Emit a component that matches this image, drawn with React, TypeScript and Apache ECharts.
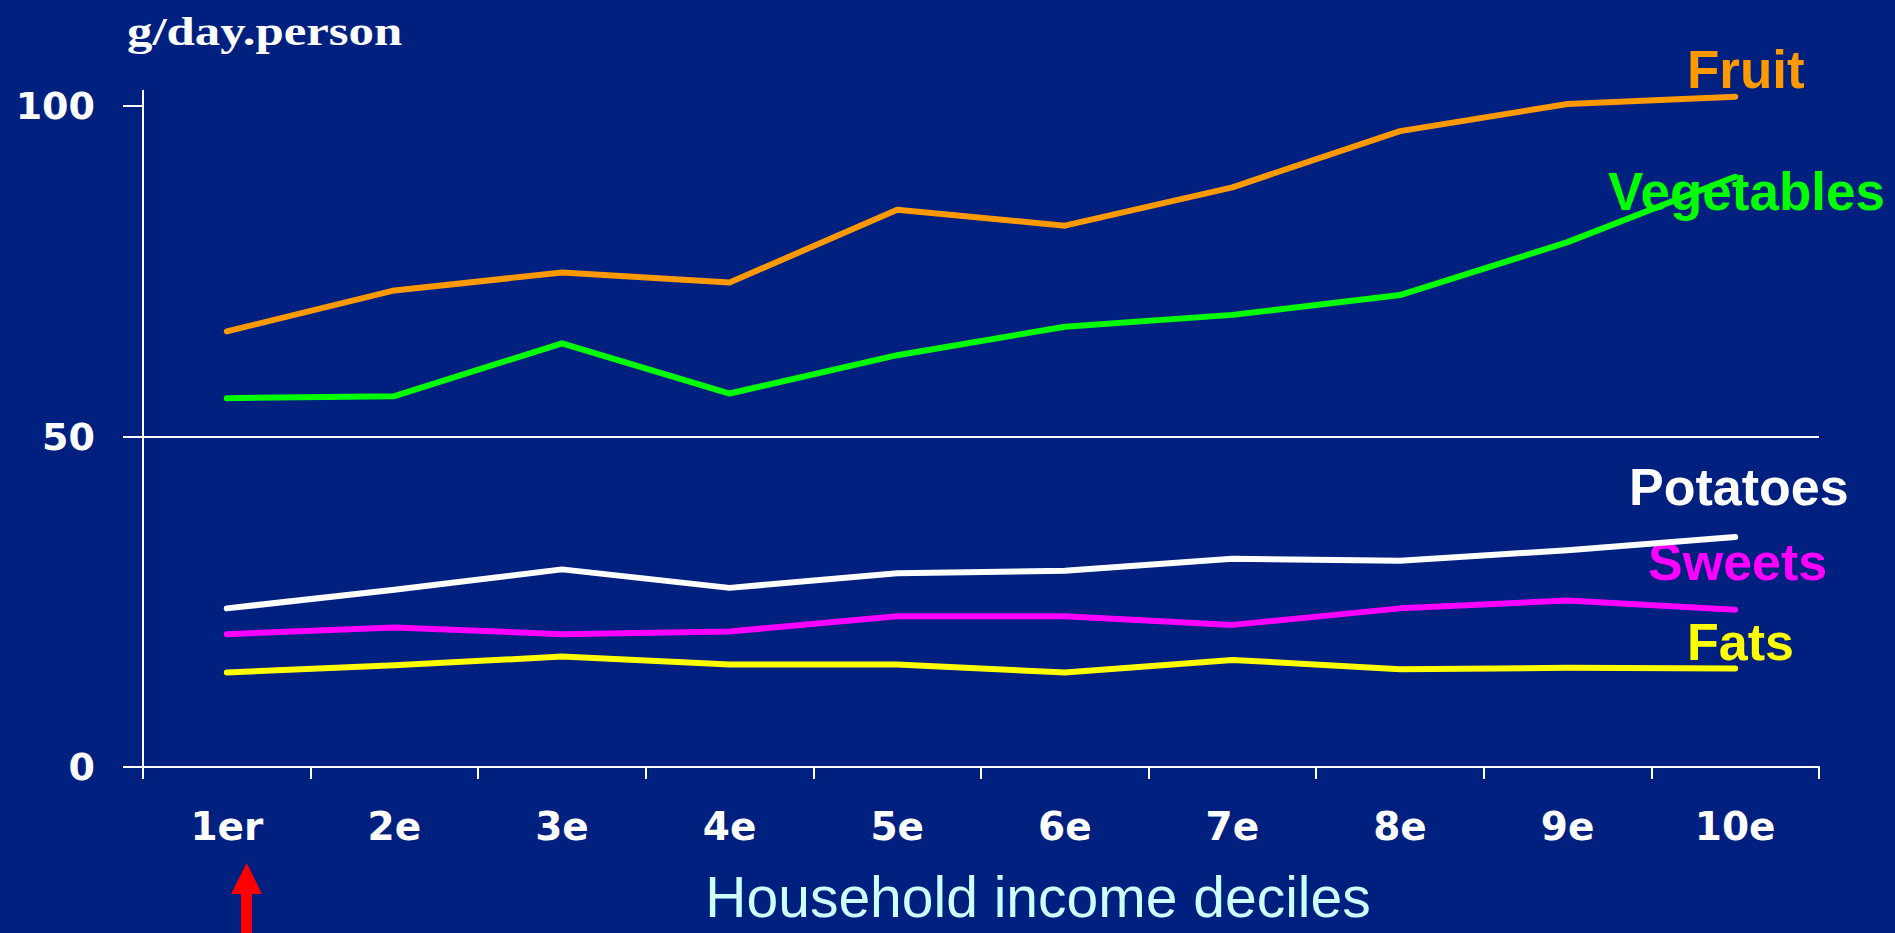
import React, { useEffect, useRef } from "react";
import * as echarts from "echarts";

const deciles = ["1er", "2e", "3e", "4e", "5e", "6e", "7e", "8e", "9e", "10e"];
const fruit = [65.9, 72.1, 74.8, 73.3, 84.3, 81.9, 87.7, 96.2, 100.3, 101.4];
const vegetables = [55.8, 56.1, 64.1, 56.5, 62.3, 66.6, 68.4, 71.4, 79.4, 89.3];
const potatoes = [24.0, 26.8, 29.9, 27.1, 29.3, 29.7, 31.5, 31.2, 32.8, 34.8];
const sweets = [20.1, 21.1, 20.1, 20.5, 22.8, 22.8, 21.5, 24.0, 25.2, 23.8];
const fats = [14.3, 15.4, 16.7, 15.5, 15.5, 14.3, 16.2, 14.8, 15.0, 14.9];
const yTickValues = [0, 50, 100];
const yAxisTop = 102.3;

const seriesDefs = [
  { name: "Fruit", data: fruit, color: "#FF9900" },
  { name: "Vegetables", data: vegetables, color: "#00FF00" },
  { name: "Potatoes", data: potatoes, color: "#FFFFFF" },
  { name: "Sweets", data: sweets, color: "#FF00FF" },
  { name: "Fats", data: fats, color: "#FFFF00" },
];

export default function App() {
  const ref = useRef<HTMLDivElement>(null);
  useEffect(() => {
    document.body.style.margin = "0";
    document.body.style.overflow = "hidden";
    const chart = echarts.init(ref.current!, null, { renderer: "svg" });
    const white = "#FFFFFF";
    const labelFont = { fontFamily: "Liberation Sans", fontWeight: "bold", fontSize: 53 };
    chart.setOption({
      animation: false,
      backgroundColor: "#002080",
      grid: { left: 143, right: 76, top: 90.8, bottom: 166, containLabel: false, outerBoundsMode: "none" },
      xAxis: {
        type: "category",
        data: deciles,
        boundaryGap: true,
        axisLine: { show: true, lineStyle: { color: white, width: 2 } },
        axisTick: { show: true, length: 12, alignWithLabel: false, lineStyle: { color: white, width: 2 } },
        axisLabel: { color: white, fontFamily: "DejaVu Sans", fontWeight: "bold", fontSize: 39, margin: 40 },
        splitLine: { show: false },
      },
      yAxis: {
        type: "value",
        min: 0,
        max: yAxisTop,
        interval: 50,
        axisLine: { show: true, lineStyle: { color: white, width: 2 } },
        axisTick: { show: true, length: 20, customValues: yTickValues, lineStyle: { color: white, width: 2 } },
        axisLabel: {
          customValues: yTickValues,
          color: white,
          fontFamily: "DejaVu Sans",
          fontWeight: "bold",
          fontSize: 38,
          margin: 48,
        },
        splitLine: { show: true, showMaxLine: false, lineStyle: { color: white, width: 2 } },
      },
      series: seriesDefs.map((s) => ({
        name: s.name,
        type: "line",
        data: s.data,
        symbol: "none",
        lineStyle: { color: s.color, width: 6, cap: "round", join: "round" },
        itemStyle: { color: s.color },
        z: 3,
      })),
      graphic: [
        {
          type: "text",
          x: 127,
          y: 31.5,
          scaleX: 1.27,
          style: {
            text: "g/day.person",
            fill: white,
            fontFamily: "Liberation Serif",
            fontWeight: "bold",
            fontSize: 40,
            textAlign: "left",
            textVerticalAlign: "middle",
          },
        },
        { type: "text", x: 1687, y: 69.5, style: { text: "Fruit", fill: "#FF9900", ...labelFont, textAlign: "left", textVerticalAlign: "middle" } },
        { type: "text", x: 1608, y: 191.5, style: { text: "Vegetables", fill: "#00FF00", ...labelFont, textAlign: "left", textVerticalAlign: "middle" } },
        { type: "text", x: 1629, y: 487, style: { text: "Potatoes", fill: "#FFFFFF", ...labelFont, fontSize: 52, textAlign: "left", textVerticalAlign: "middle" } },
        { type: "text", x: 1648, y: 562, style: { text: "Sweets", fill: "#FF00FF", ...labelFont, fontSize: 52, textAlign: "left", textVerticalAlign: "middle" } },
        { type: "text", x: 1687, y: 642, style: { text: "Fats", fill: "#FFFF00", ...labelFont, fontSize: 52, textAlign: "left", textVerticalAlign: "middle" } },
        {
          type: "text",
          x: 1038,
          y: 897,
          style: {
            text: "Household income deciles",
            fill: "#CCFFFF",
            fontFamily: "Liberation Sans",
            fontSize: 57,
            textAlign: "center",
            textVerticalAlign: "middle",
          },
        },
        {
          type: "polygon",
          shape: {
            points: [
              [246.7, 863],
              [262, 894],
              [252, 894],
              [252, 933],
              [241, 933],
              [241, 894],
              [231, 894],
            ],
          },
          style: { fill: "#FF0000" },
        },
      ],
    });
    return () => chart.dispose();
  }, []);
  return <div ref={ref} style={{ width: 1895, height: 933 }} />;
}
